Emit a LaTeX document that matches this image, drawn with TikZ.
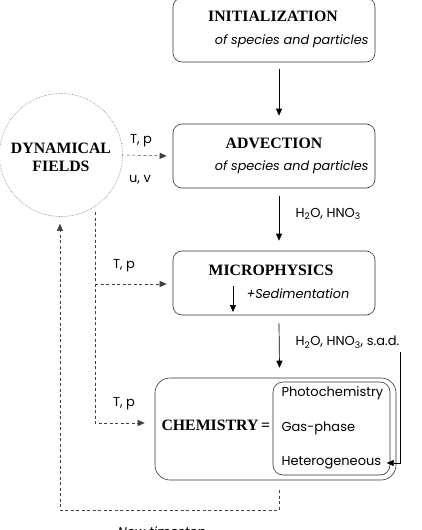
\documentclass[tikz,border=0pt]{standalone}
\usepackage{fontspec}
\setmainfont{Liberation Serif}
\setsansfont{Poppins}
\usetikzlibrary{positioning}
\usetikzlibrary{calc}
\usetikzlibrary{arrows.meta}

\begin{document}
\begin{tikzpicture}[x=1pt,y=-1pt,
    procbox/.style={draw=black!80,rounded corners=9pt,minimum width=202pt,minimum height=64pt,line width=0.6pt},
    title/.style={font=\fontsize{15.8}{18}\selectfont\bfseries},
    note/.style={font=\sffamily\itshape\fontsize{12.8}{15}\selectfont},
    lbl/.style={font=\sffamily\fontsize{13}{15}\selectfont},
    flow/.style={-{Triangle[length=7pt,width=6pt]},line width=0.7pt},
    feed/.style={flow,dash pattern=on 3pt off 2.5pt,line width=0.5pt,draw=black!75}]
    \useasboundingbox (0,0) rectangle (422,530);

    % Process boxes
    \node[procbox] (init) at (274,30) {};
    \node[title] (initT) at (273,16) {INITIALIZATION};
    \node[note,anchor=east] (initN) at (372,41) {of species and particles};

    \node[procbox] (adv) at (274,156) {};
    \node[title] (advT) at (274,143) {ADVECTION};
    \node[note,anchor=east] (advN) at (372,167) {of species and particles};

    \node[procbox] (micro) at (274,283) {};
    \node[title] (microT) at (271,270) {MICROPHYSICS};
    \node[note,anchor=west] (sedi) at (243,294) {+Sedimentation};
    \coordinate (sediA) at (233,286);
    \coordinate (sediB) at (233,312);
    \draw[flow] (sediA) -- (sediB);

    % Chemistry
    \node[draw=black!80,rounded corners=15pt,line width=0.6pt,minimum width=241pt,minimum height=102pt] (chem) at (275.5,429) {};
    \node[draw=black!80,rounded corners=10pt,line width=0.6pt,minimum width=117pt,minimum height=93pt] (chemIn) at (331.5,428.5) {};
    \node[title,anchor=west] (chemT) at (158,425) {CHEMISTRY\,=};
    \node[lbl,anchor=west] (photo) at (278,393) {Photochemistry};
    \node[lbl,anchor=west] (gas) at (278,428) {Gas-phase};
    \node[lbl,anchor=west] (hetero) at (278,463) {Heterogeneous};

    % Dynamical fields
    \node[circle,draw=black!50,densely dotted,line width=0.6pt,minimum size=123pt] (dyn) at (61,155) {};
    \node[title,align=center] (dynT) at (61,157) {DYNAMICAL\\FIELDS};

    % Labels
    \node[lbl] (tp1) at (141,141) {T, p};
    \node[lbl] (uv) at (140,180) {u, v};
    \node[lbl] (tp2) at (124,266) {T, p};
    \node[lbl] (tp3) at (124,404) {T, p};
    \node[lbl,anchor=west] (flux1) at (292,214) {H\textsubscript{2}O, HNO\textsubscript{3}};
    \node[lbl,anchor=west] (flux2) at (292,342) {H\textsubscript{2}O, HNO\textsubscript{3}, s.a.d.};
    \node[note,anchor=base] (newts) at (162,536) {New timestep};

    % Main flow
    \draw[flow] ([xshift=5pt,yshift=-7pt]init.south) -- ([xshift=5pt,yshift=8pt]adv.north);
    \draw[flow] ([xshift=5pt,yshift=-8pt]adv.south) -- ([xshift=5pt,yshift=10pt]micro.north);
    \draw[flow] ([xshift=5pt,yshift=-8pt]micro.south) -- ([xshift=4pt,yshift=10pt]chem.north);
    \coordinate (sadTop) at (400,352);
    \draw[-{Triangle[length=7pt,width=6pt]},line width=0.5pt] (sadTop) |- ([xshift=2pt]hetero.east);

    % Dynamical fields feeds
    \coordinate (tapTop) at (95,212);
    \coordinate (tapMid) at (95,284);
    \coordinate (tapLow) at (95,423);
    \draw[feed] ([xshift=4pt]dyn.east) -- ([xshift=-6pt]adv.west);
    \draw[feed] (tapTop) -- (tapLow) -- ([xshift=-10pt]chem.west |- tapLow);
    \draw[feed] (tapMid) -- ([xshift=-6pt]micro.west |- tapMid);

    % Feedback loop
    \coordinate (loopA) at (279,490);
    \coordinate (loopB) at (279,510);
    \coordinate (loopC) at (60,510);
    \draw[feed] (loopA) -- (loopB) -- (loopC) -- ([yshift=-7pt]dyn.south -| loopC);
\end{tikzpicture}
\end{document}
